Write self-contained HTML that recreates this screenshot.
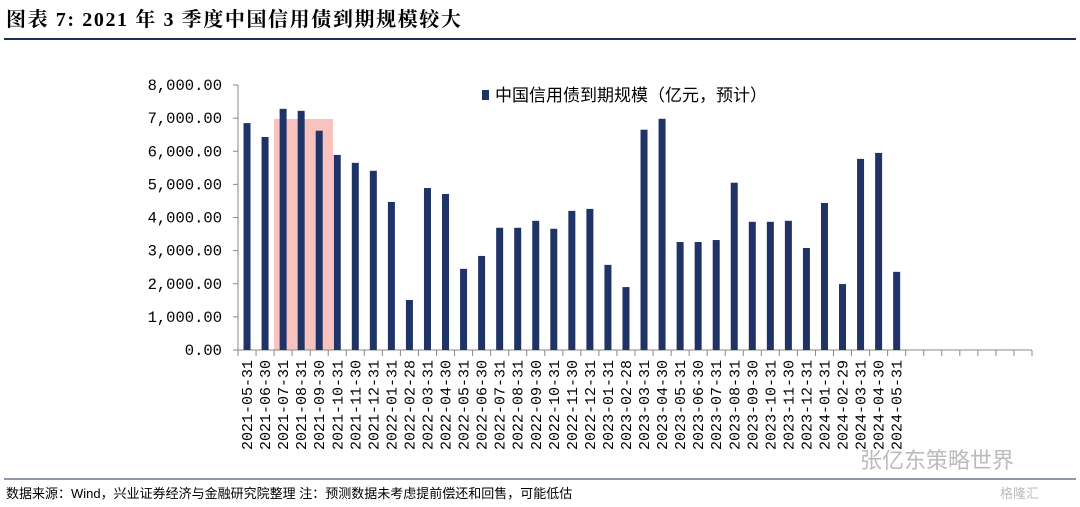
<!DOCTYPE html>
<html><head><meta charset="utf-8">
<style>
body{margin:0;background:#fff;}
svg{display:block;}
</style></head>
<body>
<svg id="chart" width="1080" height="507" xmlns="http://www.w3.org/2000/svg">
<text x="6" y="26" font-family="'Liberation Serif','Noto Serif CJK SC',serif" font-weight="bold" font-size="20" letter-spacing="1.6" fill="#000">图表 7:  2021 年 3 季度中国信用债到期规模较大</text>
<line x1="4" y1="39" x2="1076" y2="39" stroke="#1f2f5c" stroke-width="2"/>
<line x1="4" y1="479" x2="1076" y2="479" stroke="#1f2f5c" stroke-width="1"/>
<text x="6" y="498" font-family="'Liberation Sans','Noto Sans CJK SC',sans-serif" font-size="13" fill="#000">数据来源：Wind，兴业证券经济与金融研究院整理  注：预测数据未考虑提前偿还和回售，可能低估</text>
<text x="860" y="468" font-family="'Liberation Sans','Noto Sans CJK SC',sans-serif" font-size="22" fill="#bbb">张亿东策略世界</text>
<text x="1000" y="498" font-family="'Liberation Sans','Noto Sans CJK SC',sans-serif" font-size="13" fill="#bbb">格隆汇</text>
<rect x="274" y="119" width="59" height="231" fill="#f7b9b3" opacity="0.85"/>
<rect x="482" y="90" width="7" height="10" fill="#1f3366"/>
<text x="495" y="101" font-family="'Liberation Sans','Noto Sans CJK SC',sans-serif" font-size="17" fill="#000">中国信用债到期规模（亿元，预计）</text>
<g id="plot"></g>
</svg>
<script>
const categories=["2021-05-31","2021-06-30","2021-07-31","2021-08-31","2021-09-30","2021-10-31","2021-11-30","2021-12-31","2022-01-31","2022-02-28","2022-03-31","2022-04-30","2022-05-31","2022-06-30","2022-07-31","2022-08-31","2022-09-30","2022-10-31","2022-11-30","2022-12-31","2023-01-31","2023-02-28","2023-03-31","2023-04-30","2023-05-31","2023-06-30","2023-07-31","2023-08-31","2023-09-30","2023-10-31","2023-11-30","2023-12-31","2024-01-31","2024-02-29","2024-03-31","2024-04-30","2024-05-31"];
const values=[6850,6430,7280,7220,6620,5890,5650,5410,4470,1510,4890,4710,2450,2840,3690,3690,3900,3660,4200,4260,2570,1900,6650,6980,3260,3260,3320,5050,3870,3870,3900,3080,4440,1990,5770,5950,2360];
const yTicks=[0,1000,2000,3000,4000,5000,6000,7000,8000];
const yTickLabels=["0.00","1,000.00","2,000.00","3,000.00","4,000.00","5,000.00","6,000.00","7,000.00","8,000.00"];
const totalSlots=44;
const NS="http://www.w3.org/2000/svg";
const g=document.getElementById('plot');
const x0=238,x1=1032,yBase=350,yTop=85;
const slot=(x1-x0)/totalSlots;
const y=v=>yBase-(v/8000)*(yBase-yTop);
const xc=i=>x0+slot*(i+0.5);
function mk(t,a){const e=document.createElementNS(NS,t);for(const k in a)e.setAttribute(k,a[k]);g.appendChild(e);return e;}
let ax=mk('line',{x1:x0,y1:yBase,x2:x1,y2:yBase,stroke:'#888','stroke-width':1});


let ay=mk('line',{x1:x0,y1:yTop,x2:x0,y2:yBase,stroke:'#888','stroke-width':1});


yTicks.forEach((v,i)=>{
 let t=mk('line',{x1:x0-5,y1:y(v),x2:x0,y2:y(v),stroke:'#888'});
 
 
 let l=mk('text',{x:222,y:y(v)+5,'text-anchor':'end','font-family':"'Liberation Mono',monospace",'font-size':15.5,fill:'#000'});
 l.textContent=yTickLabels[i];
 
 
});
for(let i=0;i<=totalSlots;i++){
 let t=mk('line',{x1:x0+slot*i,y1:yBase,x2:x0+slot*i,y2:yBase+6,stroke:'#888'});
 
 
}
values.forEach((v,i)=>{
 let b=mk('rect',{x:xc(i)-3.5,y:y(v),width:7,height:yBase-y(v),fill:'#1f3366'});
 
 
});
categories.forEach((c,i)=>{
 let l=mk('text',{x:0,y:0,'text-anchor':'end','font-family':"'Liberation Mono',monospace",'font-size':15,fill:'#000',transform:`translate(${xc(i)+5},${yBase+10}) rotate(-90)`});
 l.textContent=c;
 
 
});
</script>
</body></html>
